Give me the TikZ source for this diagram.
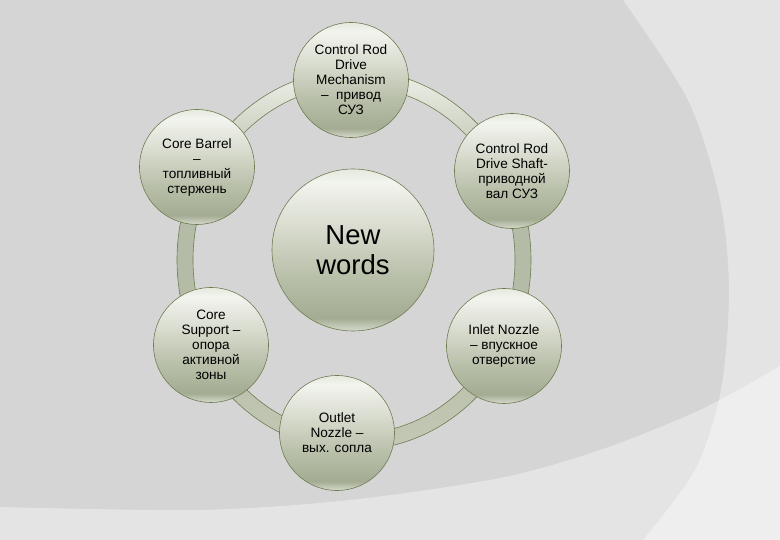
\documentclass[tikz,border=0pt]{standalone}
\usepackage{fontspec}
\setmainfont{Liberation Sans}
\definecolor{bgbase}{HTML}{D5D5D5}
\definecolor{rimline}{HTML}{6E7D52}
\definecolor{bA}{HTML}{D6DACC}
\definecolor{bB}{HTML}{A3AC92}
\definecolor{bC}{HTML}{B9C0AA}
\definecolor{bD}{HTML}{DADDD0}
\definecolor{bE}{HTML}{F2F4EE}
\definecolor{bF}{HTML}{E6E9DF}
\definecolor{rTop}{HTML}{EEF0E8}
\definecolor{rMid}{HTML}{B4BBA6}
\definecolor{rBot}{HTML}{C2C8B4}
\pgfdeclareverticalshading{ballshade}{100bp}{color(0bp)=(bA); color(25bp)=(bA); color(29bp)=(bB); color(42bp)=(bC); color(58bp)=(bD); color(71bp)=(bE); color(75bp)=(bF); color(100bp)=(bF)}
\pgfdeclareverticalshading{ringshade}{100bp}{color(0bp)=(rBot); color(25bp)=(rBot); color(45bp)=(rMid); color(60bp)=(rMid); color(75bp)=(rTop); color(100bp)=(rTop)}
\tikzset{
  ball/.style={circle, draw=rimline, line width=0.6pt, shading=ballshade, inner sep=0pt, align=center, font=\fontsize{13.6}{15}\selectfont, text=black},
  ringband/.style={draw=rimline, line width=0.6pt, shading=ringshade, even odd rule},
  veil/.style={fill=white, fill opacity=0.38}
}
\begin{document}
\begin{tikzpicture}[x=1pt,y=-1pt]
\useasboundingbox (0,0) rectangle (780,540);
\fill[bgbase] (0,0) rectangle (780,540);
% light swooshes
\fill[veil] plot[smooth] coordinates {(623,0) (688,100) (720,200) (729,290) (721,390) (695,470) (643,540)} -- (780,540) -- (780,0) -- cycle;
\fill[veil] plot[smooth] coordinates {(0,507) (200,510) (350,500) (500,478) (600,450) (700,410) (780,366)} -- (780,540) -- (0,540) -- cycle;
% ring
\coordinate (rc) at (354,260);
\shade[ringband] (rc) ellipse [x radius=177pt, y radius=190pt] (rc) ellipse [x radius=161pt, y radius=174pt];
% nodes
\node[ball, minimum size=162pt, font=\fontsize{27.5}{30}\selectfont] (cen) at (353,250) {New\\words};
\node[ball, minimum size=115pt] (crdm) at (351,80) {Control Rod\\Drive\\Mechanism\\–\ \ привод\\СУЗ};
\node[ball, minimum size=115pt] (barrel) at (197,167) {Core Barrel\\–\\топливный\\стержень};
\node[ball, minimum size=115pt] (shaft) at (512,171) {Control Rod\\Drive Shaft-\\приводной\\вал СУЗ};
\node[ball, minimum size=115pt] (support) at (211,345) {Core\\Support –\\опора\\активной\\зоны};
\node[ball, minimum size=115pt] (inlet) at (504,346) {Inlet Nozzle\\– впускное\\отверстие};
\node[ball, minimum size=115pt] (outlet) at (337,433) {Outlet\\Nozzle –\\вых. сопла};
\end{tikzpicture}
\end{document}
